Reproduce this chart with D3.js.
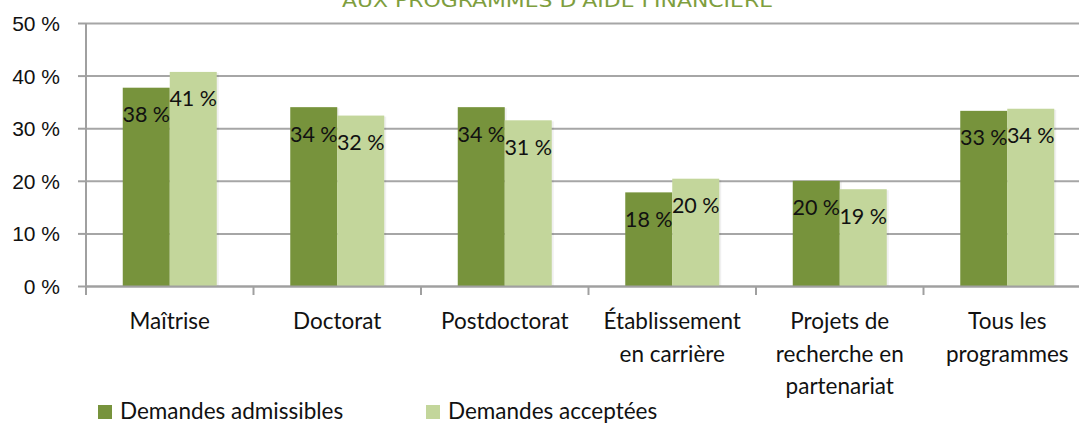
<!DOCTYPE html>
<html>
<head>
<meta charset="utf-8">
<title>Demandes admissibles et acceptées</title>
<script src="https://d3js.org/d3.v7.min.js"></script>
<style>
  body { margin: 0; background: #fff; }
  svg { display: block; font-family: Lato, "Open Sans", sans-serif; }
</style>
</head>
<body>
<div id="chart"></div>
<script>
// categories (one array of lines per tick label)
var categories = ["Maîtrise", "Doctorat", "Postdoctorat", "Établissement en carrière", "Projets de recherche en partenariat", "Tous les programmes"];
var categoryLines = [["Maîtrise"], ["Doctorat"], ["Postdoctorat"], ["Établissement", "en carrière"], ["Projets de", "recherche en", "partenariat"], ["Tous les", "programmes"]];

var seriesNames = ["Demandes admissibles", "Demandes acceptées"];
var admissibles = [37.7, 34.0, 34.0, 17.8, 20.0, 33.3];
var acceptees = [40.7, 32.4, 31.5, 20.4, 18.4, 33.7];
var labelsAdmissibles = ["38 %", "34 %", "34 %", "18 %", "20 %", "33 %"];
var labelsAcceptees = ["41 %", "32 %", "31 %", "20 %", "19 %", "34 %"];

var yTicks = [0, 10, 20, 30, 40, 50];
var colors = ["#77933c", "#c3d69b"];

var W = 1079, H = 423;
var mLeft = 86, mTop = 23, mBottom = 286, mRight = 1091;

var svg = d3.select("#chart").append("svg")
  .attr("width", W).attr("height", H);

// title (cut off at the top in the original)
svg.append("text")
  .attr("x", 342).attr("y", 6.5)
  .attr("textLength", 431).attr("lengthAdjust", "spacingAndGlyphs")
  .style("font-family", "'DejaVu Sans', sans-serif")
  .style("font-size", "19px")
  .style("fill", "#7e9e3e")
  .text("AUX PROGRAMMES D'AIDE FINANCIÈRE");

var x0 = d3.scaleBand().domain(categories).range([mLeft, mRight]).paddingInner(0).paddingOuter(0);
var x1 = d3.scaleBand().domain(seriesNames).range([0, x0.bandwidth()]).paddingInner(0).paddingOuter(0.782);
var y = d3.scaleLinear().domain([0, 50]).range([mBottom, mTop]);

// gridlines + y axis
var yAxis = svg.append("g")
  .attr("transform", "translate(" + mLeft + ",0)")
  .call(d3.axisLeft(y).tickValues(yTicks).tickSize(8).tickFormat(function (d) { return d + " %"; }));
yAxis.select(".domain").remove();
yAxis.selectAll(".tick line").attr("stroke", "#a0a0a0").attr("stroke-width", 2);
yAxis.selectAll(".tick").append("line")
  .attr("x1", 0).attr("x2", W - mLeft)
  .attr("stroke", "#a6a6a6").attr("stroke-width", 2);
yAxis.selectAll(".tick text")
  .attr("x", -26).attr("dy", "0.36em")
  .style("font-size", "21px").style("fill", "#111");

svg.append("line")
  .attr("x1", mLeft).attr("x2", mLeft).attr("y1", mTop).attr("y2", mBottom)
  .attr("stroke", "#a0a0a0").attr("stroke-width", 2);

// bars
var rows = categories.map(function (c, i) {
  return { cat: c, values: [
    { s: seriesNames[0], v: admissibles[i], label: labelsAdmissibles[i] },
    { s: seriesNames[1], v: acceptees[i], label: labelsAcceptees[i] }
  ] };
});

var groups = svg.selectAll("g.grp").data(rows).enter().append("g")
  .attr("class", "grp")
  .attr("transform", function (d) { return "translate(" + x0(d.cat) + ",0)"; });

// faint shadow on the right side of bars
groups.selectAll("rect.sh").data(function (d) { return d.values; }).enter().append("rect")
  .attr("class", "sh")
  .attr("x", function (d) { return x1(d.s) + 2; })
  .attr("y", function (d) { return y(d.v) + 1; })
  .attr("width", x1.bandwidth())
  .attr("height", function (d) { return mBottom - y(d.v) - 1; })
  .attr("fill", "#000").attr("opacity", 0.06);

groups.selectAll("rect.bar").data(function (d) { return d.values; }).enter().append("rect")
  .attr("class", "bar")
  .attr("x", function (d) { return x1(d.s); })
  .attr("y", function (d) { return y(d.v); })
  .attr("width", x1.bandwidth())
  .attr("height", function (d) { return mBottom - y(d.v); })
  .attr("fill", function (d, i) { return colors[i]; });

groups.selectAll("text.lbl").data(function (d) { return d.values; }).enter().append("text")
  .attr("class", "lbl")
  .attr("x", function (d) { return x1(d.s) + x1.bandwidth() / 2; })
  .attr("y", function (d) { return y(d.v) + 34.5; })
  .attr("text-anchor", "middle")
  .style("font-size", "21.5px").style("fill", "#111")
  .text(function (d) { return d.label; });

// x axis
var xAxis = svg.append("g")
  .attr("transform", "translate(0," + mBottom + ")")
  .call(d3.axisBottom(x0).tickSize(0).tickFormat(""));
xAxis.select(".domain").attr("stroke", "#a0a0a0").attr("stroke-width", 2);
xAxis.selectAll(".tick").remove();

var bounds = x0.domain().map(function (c) { return x0(c); }).concat([mRight]);
svg.selectAll("line.xt").data(bounds).enter().append("line")
  .attr("class", "xt")
  .attr("x1", function (d) { return d; }).attr("x2", function (d) { return d; })
  .attr("y1", mBottom).attr("y2", mBottom + 9)
  .attr("stroke", "#a0a0a0").attr("stroke-width", 2);

svg.selectAll("text.cat").data(categories).enter().append("text")
  .attr("class", "cat")
  .attr("x", function (d) { return x0(d) + x0.bandwidth() / 2; })
  .attr("y", 329)
  .attr("text-anchor", "middle")
  .style("font-size", "22.5px").style("fill", "#111")
  .selectAll("tspan").data(function (d, i) { return categoryLines[i]; }).enter().append("tspan")
  .attr("x", function () { return this.parentNode.getAttribute("x"); })
  .attr("dy", function (d, i) { return i === 0 ? 0 : 32.5; })
  .text(function (d) { return d; });

// legend
var legX = [98, 426];
var leg = svg.selectAll("g.leg").data(seriesNames).enter().append("g")
  .attr("class", "leg")
  .attr("transform", function (d, i) { return "translate(" + legX[i] + ",405)"; });
leg.append("rect").attr("width", 14).attr("height", 14)
  .attr("fill", function (d, i) { return colors[i]; });
leg.append("text").attr("x", 22).attr("y", 14)
  .style("font-size", "22.5px").style("fill", "#111")
  .text(function (d) { return d; });
</script>
</body>
</html>
